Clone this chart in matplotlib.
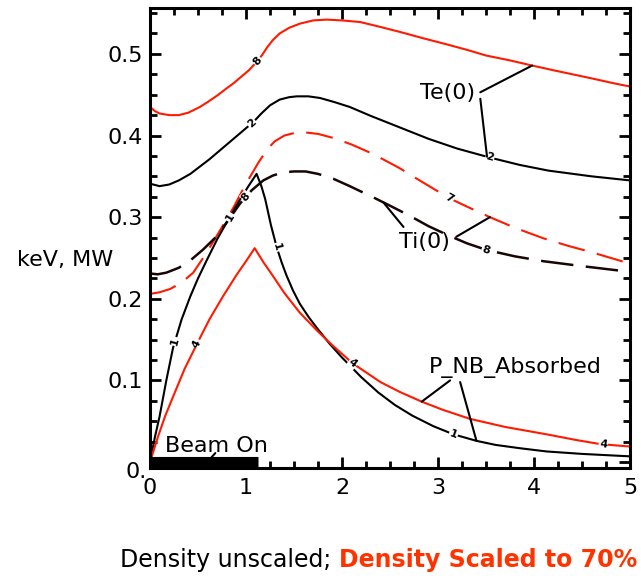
import numpy as np
import matplotlib.pyplot as plt
from matplotlib.transforms import ScaledTranslation

plt.rcParams['font.family'] = ['DejaVu Sans']

RED = '#ff1a00'
FS = 16

# Te(0), keV
te_red_x = [0, 0.05, 0.1, 0.2, 0.3, 0.4, 0.52, 0.6, 0.7, 0.8, 0.87, 0.95, 1.03, 1.11, 1.17, 1.22, 1.28, 1.35,
            1.45, 1.56, 1.7, 1.84, 2.0, 2.19, 2.4, 2.6, 2.85, 3.08, 3.3, 3.5, 3.75, 3.97, 4.2, 4.4, 4.6, 4.83, 5.0]
te_red_y = [0.435, 0.43, 0.427, 0.425, 0.425, 0.428, 0.435, 0.441, 0.449, 0.458, 0.464, 0.472, 0.48, 0.49, 0.499,
            0.508, 0.517, 0.525, 0.532, 0.537, 0.541, 0.542, 0.541, 0.539, 0.533, 0.527, 0.519, 0.512, 0.505, 0.498,
            0.492, 0.486, 0.48, 0.475, 0.47, 0.464, 0.460]
te_blk_x = [0, 0.1, 0.2, 0.3, 0.42, 0.52, 0.62, 0.73, 0.82, 0.9, 1.0, 1.08, 1.16, 1.25, 1.35, 1.45, 1.53, 1.65,
            1.77, 1.92, 2.08, 2.3, 2.6, 2.9, 3.2, 3.54, 3.85, 4.15, 4.6, 5.0]
te_blk_y = [0.341, 0.338, 0.34, 0.345, 0.353, 0.362, 0.371, 0.382, 0.391, 0.399, 0.409, 0.417, 0.427, 0.437,
            0.444, 0.447, 0.448, 0.448, 0.446, 0.441, 0.435, 0.424, 0.41, 0.396, 0.384, 0.373, 0.364, 0.357,
            0.35, 0.345]

# Ti(0), keV
ti_red_x = [0, 0.1, 0.21, 0.33, 0.45, 0.57, 0.69, 0.78, 0.87, 0.95, 1.04, 1.13, 1.22, 1.3, 1.4, 1.5, 1.6, 1.75,
            1.91, 2.1, 2.33, 2.6, 2.78, 3.12, 3.3, 3.54, 3.8, 4.1, 4.35, 4.6, 4.8, 5.0]
ti_red_y = [0.206, 0.208, 0.212, 0.22, 0.232, 0.253, 0.276, 0.294, 0.312, 0.33, 0.349, 0.367, 0.383, 0.393, 0.4,
            0.403, 0.404, 0.402, 0.397, 0.389, 0.377, 0.36, 0.347, 0.323, 0.313, 0.3, 0.287, 0.274, 0.265, 0.257,
            0.25, 0.243]
ti_blk_x = [0, 0.08, 0.17, 0.3, 0.42, 0.55, 0.69, 0.82, 0.94, 1.06, 1.18, 1.28, 1.39, 1.5, 1.62, 1.75, 1.91,
            2.08, 2.33, 2.5, 2.7, 2.9, 3.12, 3.3, 3.5, 3.8, 4.1, 4.5, 5.0]
ti_blk_y = [0.231, 0.23, 0.232, 0.238, 0.247, 0.26, 0.276, 0.297, 0.317, 0.333, 0.345, 0.351, 0.355, 0.356,
            0.356, 0.353, 0.347, 0.338, 0.324, 0.314, 0.302, 0.289, 0.277, 0.268, 0.26, 0.252, 0.246, 0.24, 0.233]

# P_NB_Absorbed, MW
pnb_blk_x = [0, 0.05, 0.1, 0.17, 0.24, 0.33, 0.42, 0.5, 0.59, 0.7, 0.8, 0.94, 1.02, 1.11, 1.16, 1.2, 1.26, 1.32,
             1.37, 1.42, 1.49, 1.56, 1.65, 1.74, 1.87, 2.0, 2.2, 2.38, 2.55, 2.73, 2.95, 3.16, 3.4, 3.6, 3.85,
             4.13, 4.5, 5.0]
pnb_blk_y = [0.0, 0.03, 0.056, 0.1, 0.14, 0.175, 0.203, 0.225, 0.247, 0.273, 0.294, 0.322, 0.337, 0.353, 0.338,
             0.322, 0.29, 0.263, 0.245, 0.229, 0.21, 0.194, 0.178, 0.164, 0.145, 0.128, 0.104, 0.085, 0.07, 0.057,
             0.044, 0.034, 0.026, 0.021, 0.017, 0.013, 0.01, 0.007]
pnb_red_x = [0, 0.08, 0.16, 0.24, 0.36, 0.49, 0.62, 0.76, 0.9, 1.0, 1.09, 1.18, 1.28, 1.4, 1.56, 1.74, 1.9, 2.11,
             2.4, 2.6, 2.83, 3.05, 3.33, 3.7, 4.13, 4.44, 4.69, 5.0]
pnb_red_y = [0.0, 0.03, 0.057, 0.08, 0.114, 0.145, 0.175, 0.203, 0.229, 0.246, 0.262, 0.245, 0.228, 0.207, 0.183,
             0.161, 0.143, 0.121, 0.098, 0.086, 0.074, 0.064, 0.053, 0.043, 0.034, 0.027, 0.022, 0.019]

beam_on = [0, 1.12]

fig = plt.figure(figsize=(6.41, 5.84), dpi=100)
ax = fig.add_axes([0.234, 0.199, 0.749, 0.787])

lw = 1.5
ax.plot(te_red_x, te_red_y, color=RED, lw=lw)
ax.plot(te_blk_x, te_blk_y, color='black', lw=lw)
ax.plot(ti_red_x, ti_red_y, color=RED, lw=lw, dashes=(13, 6))
ax.plot(ti_blk_x, ti_blk_y, color='#1a0505', lw=lw + 0.3, dashes=(13, 5))
ax.plot(pnb_blk_x, pnb_blk_y, color='black', lw=lw)
ax.plot(pnb_red_x, pnb_red_y, color=RED, lw=lw)
ax.plot(beam_on, [0, 0], color='black', lw=8, solid_capstyle='butt', clip_on=False)

ax.set_xlim(0, 5)
ax.set_ylim(-0.007, 0.556)
ax.set_xticks(np.arange(0, 6, 1))
ax.set_xticks(np.arange(0, 5.01, 0.25), minor=True)
ax.set_yticks([0, 0.1, 0.2, 0.3, 0.4, 0.5])
ax.set_yticks(np.arange(0, 0.551, 0.025), minor=True)
ax.set_yticklabels(['0.', '0.1', '0.2', '0.3', '0.4', '0.5'])
ax.tick_params(which='both', direction='in', top=True, right=True, width=2, labelsize=FS, pad=5)
ax.tick_params(which='major', length=8)
ax.tick_params(which='minor', length=5)
ax.tick_params(axis='x', pad=7)
for s in ax.spines.values():
    s.set_linewidth(2.2)
lbl0 = ax.get_yticklabels()[0]
lbl0.set_transform(lbl0.get_transform() + ScaledTranslation(0.04, -0.08, fig.dpi_scale_trans))

ax.set_ylabel('keV, MW', rotation=0, fontsize=FS)
ax.yaxis.set_label_coords(-0.177, 0.43)


# small contour-style labels along the curves
def curve_label(xs, ys, x0, txt):
    y0 = np.interp(x0, xs, ys)
    p1 = ax.transData.transform((x0 - 0.05, np.interp(x0 - 0.05, xs, ys)))
    p2 = ax.transData.transform((x0 + 0.05, np.interp(x0 + 0.05, xs, ys)))
    ang = np.degrees(np.arctan2(p2[1] - p1[1], p2[0] - p1[0]))
    ax.text(x0, y0, txt, fontsize=8, fontweight='bold', ha='center', va='center',
            rotation=ang, rotation_mode='anchor',
            bbox=dict(facecolor='white', edgecolor='none', pad=0.5))


curve_label(te_red_x, te_red_y, 1.12, '8')
curve_label(te_blk_x, te_blk_y, 1.06, '2')
curve_label(te_blk_x, te_blk_y, 3.54, '2')
curve_label(ti_red_x, ti_red_y, 3.12, '7')
curve_label(ti_blk_x, ti_blk_y, 3.5, '8')
curve_label(ti_blk_x, ti_blk_y, 1.0, '8')
for xl in [0.26, 0.83, 1.32, 3.16]:
    curve_label(pnb_blk_x, pnb_blk_y, xl, '1')
for xl in [0.49, 2.11, 4.72]:
    curve_label(pnb_red_x, pnb_red_y, xl, '4')

# name tags with leader lines
line = dict(arrowstyle='-', color='black', lw=1.5, shrinkA=0, shrinkB=0)


def tag(txt, pos, leads):
    ax.text(pos[0], pos[1], txt, fontsize=FS, ha='center', va='center')
    for start, xs, ys, x0 in leads:
        ax.annotate('', xy=(x0, np.interp(x0, xs, ys)), xytext=start, arrowprops=line)


tag('Te(0)', (3.1, 0.452), [((3.44, 0.453), te_red_x, te_red_y, 3.98),
                            ((3.44, 0.445), te_blk_x, te_blk_y, 3.51)])
tag('Ti(0)', (2.86, 0.269), [((3.19, 0.276), ti_red_x, ti_red_y, 3.54),
                            ((2.64, 0.288), ti_blk_x, ti_blk_y, 2.43)])
tag('P_NB_Absorbed', (3.8, 0.116), [((3.125, 0.100), pnb_red_x, pnb_red_y, 2.83),
                                    ((3.23, 0.098), pnb_blk_x, pnb_blk_y, 3.40)])
ax.text(0.69, 0.0196, 'Beam On', fontsize=FS, ha='center', va='center')
ax.annotate('', xy=(0.59, -0.001), xytext=(0.68, 0.011), arrowprops=line)

t1 = fig.text(0.187, 0.02, 'Density unscaled; ', fontsize=17, ha='left', va='bottom')
ax.annotate('Density Scaled to 70%', xy=(1, 0), xycoords=t1, va='bottom', ha='left',
            fontsize=17, fontweight='bold', color='#ff3300', annotation_clip=False)

fig.savefig('out.png', dpi=100)
